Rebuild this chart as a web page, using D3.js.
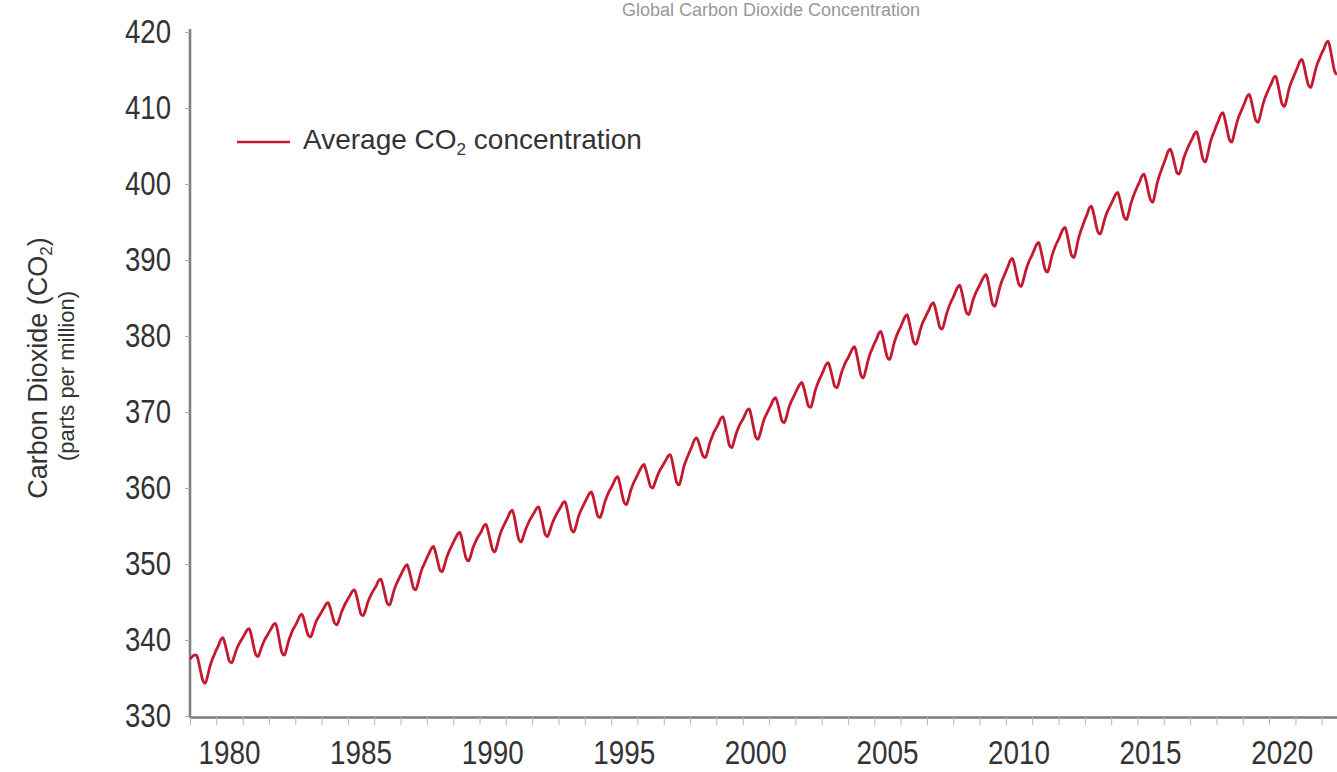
<!DOCTYPE html>
<html>
<head>
<meta charset="utf-8">
<script src="https://cdn.jsdelivr.net/npm/d3@7"></script>
<style>
  html, body { margin: 0; padding: 0; background: #fff; }
  svg { display: block; }
  .reg { font-family: "Liberation Sans", Arial, sans-serif; }
</style>
</head>
<body>
<svg id="chart" width="1337" height="772"></svg>
<script>
// monthly global mean CO2 (ppm), Jan 1979 onward, one row per year
const startYear = 1979;
const co2Monthly = [
  337.5, 337.8, 338.0, 338.0, 337.1, 335.7, 334.6, 334.3, 335.2, 336.4, 337.3, 338.0,
  338.7, 339.3, 340.0, 340.3, 339.5, 338.3, 337.2, 337.0, 337.7, 338.6, 339.3, 339.8,
  340.3, 340.8, 341.3, 341.5, 340.6, 339.2, 338.1, 337.8, 338.5, 339.3, 340.0, 340.5,
  341.0, 341.5, 342.0, 342.2, 341.2, 339.6, 338.3, 338.0, 338.8, 339.9, 340.7, 341.4,
  341.9, 342.5, 343.1, 343.4, 342.7, 341.5, 340.6, 340.4, 341.1, 342.0, 342.7, 343.2,
  343.7, 344.2, 344.7, 344.9, 344.2, 343.1, 342.2, 342.0, 342.7, 343.6, 344.3, 344.9,
  345.4, 345.9, 346.4, 346.6, 345.8, 344.5, 343.4, 343.2, 343.9, 344.9, 345.6, 346.2,
  346.7, 347.2, 347.8, 348.0, 347.2, 345.9, 344.8, 344.6, 345.4, 346.5, 347.3, 347.9,
  348.5, 349.1, 349.6, 349.9, 349.1, 347.9, 346.8, 346.6, 347.5, 348.6, 349.5, 350.1,
  350.8, 351.4, 352.0, 352.3, 351.5, 350.3, 349.2, 349.0, 349.8, 350.8, 351.6, 352.2,
  352.8, 353.4, 353.9, 354.2, 353.3, 351.8, 350.7, 350.4, 351.1, 352.1, 352.8, 353.4,
  353.9, 354.4, 355.0, 355.2, 354.3, 353.0, 351.9, 351.6, 352.4, 353.5, 354.4, 355.0,
  355.6, 356.2, 356.8, 357.1, 356.1, 354.5, 353.2, 352.9, 353.6, 354.5, 355.2, 355.8,
  356.3, 356.8, 357.3, 357.5, 356.5, 355.1, 353.9, 353.6, 354.3, 355.2, 355.9, 356.5,
  357.0, 357.5, 358.0, 358.2, 357.2, 355.7, 354.5, 354.2, 355.0, 356.1, 356.9, 357.5,
  358.1, 358.7, 359.2, 359.5, 358.7, 357.4, 356.3, 356.1, 356.9, 358.0, 358.8, 359.5,
  360.0, 360.6, 361.2, 361.5, 360.6, 359.2, 358.1, 357.8, 358.6, 359.7, 360.5, 361.1,
  361.7, 362.3, 362.8, 363.1, 362.3, 361.2, 360.2, 360.0, 360.7, 361.5, 362.2, 362.7,
  363.2, 363.7, 364.2, 364.4, 363.4, 361.9, 360.7, 360.4, 361.3, 362.6, 363.5, 364.2,
  364.9, 365.6, 366.3, 366.6, 366.0, 365.0, 364.2, 364.0, 364.8, 365.9, 366.7, 367.4,
  367.9, 368.5, 369.1, 369.4, 368.4, 366.9, 365.6, 365.3, 366.1, 367.1, 367.9, 368.5,
  369.0, 369.6, 370.2, 370.4, 369.4, 367.9, 366.7, 366.4, 367.2, 368.3, 369.2, 369.8,
  370.4, 371.0, 371.6, 371.9, 371.1, 369.9, 368.8, 368.6, 369.4, 370.5, 371.3, 371.9,
  372.5, 373.1, 373.6, 373.9, 373.1, 371.9, 370.8, 370.6, 371.5, 372.7, 373.6, 374.3,
  374.9, 375.6, 376.2, 376.5, 375.7, 374.5, 373.4, 373.2, 374.0, 375.1, 375.9, 376.6,
  377.1, 377.7, 378.3, 378.6, 377.6, 376.1, 374.8, 374.5, 375.4, 376.6, 377.6, 378.3,
  379.0, 379.6, 380.3, 380.6, 379.7, 378.3, 377.2, 376.9, 377.8, 379.0, 379.9, 380.6,
  381.2, 381.9, 382.5, 382.8, 381.8, 380.4, 379.2, 378.9, 379.7, 380.8, 381.7, 382.3,
  382.9, 383.5, 384.1, 384.4, 383.5, 382.2, 381.1, 380.9, 381.8, 382.9, 383.8, 384.5,
  385.1, 385.8, 386.4, 386.7, 385.7, 384.3, 383.1, 382.8, 383.6, 384.7, 385.5, 386.1,
  386.7, 387.3, 387.8, 388.1, 387.1, 385.5, 384.2, 383.9, 384.9, 386.1, 387.1, 387.8,
  388.5, 389.2, 389.9, 390.2, 389.3, 387.9, 386.8, 386.5, 387.4, 388.5, 389.4, 390.1,
  390.7, 391.4, 392.0, 392.3, 391.3, 389.9, 388.7, 388.4, 389.3, 390.5, 391.4, 392.1,
  392.7, 393.4, 394.0, 394.3, 393.3, 391.8, 390.6, 390.3, 391.3, 392.7, 393.7, 394.5,
  395.3, 396.0, 396.8, 397.1, 396.2, 394.8, 393.7, 393.4, 394.2, 395.3, 396.2, 396.8,
  397.4, 398.0, 398.6, 398.9, 398.0, 396.7, 395.6, 395.3, 396.2, 397.4, 398.3, 399.0,
  399.7, 400.3, 401.0, 401.3, 400.4, 399.0, 397.9, 397.6, 398.7, 400.1, 401.1, 401.9,
  402.7, 403.5, 404.3, 404.6, 403.8, 402.6, 401.5, 401.3, 402.1, 403.3, 404.1, 404.8,
  405.4, 406.0, 406.6, 406.9, 405.9, 404.4, 403.2, 402.9, 403.9, 405.2, 406.2, 406.9,
  407.7, 408.4, 409.1, 409.4, 408.4, 407.0, 405.8, 405.5, 406.5, 407.7, 408.7, 409.4,
  410.1, 410.8, 411.5, 411.8, 410.9, 409.5, 408.4, 408.1, 409.0, 410.2, 411.2, 411.9,
  412.6, 413.2, 413.9, 414.2, 413.2, 411.7, 410.5, 410.2, 411.1, 412.4, 413.3, 414.0,
  414.7, 415.4, 416.1, 416.4, 415.5, 414.1, 413.0, 412.7, 413.6, 414.8, 415.8, 416.5,
  417.2, 417.8, 418.5, 418.8, 417.7, 416.1, 414.8, 414.4
];

const yTicks = [330, 340, 350, 360, 370, 380, 390, 400, 410, 420];
const xLabelYears = [1980, 1985, 1990, 1995, 2000, 2005, 2010, 2015, 2020];
const chartTitle = 'Global Carbon Dioxide Concentration';
const legendLabel = 'Average CO';
const yTitle = 'Carbon Dioxide (CO';
const ySubTitle = '(parts per million)';

const width = 1337,
  height = 772,
  margin = { top: 32, right: 0, bottom: 56, left: 190 };

const red = '#c41a30',
  axisGrey = '#7d7d7d',
  textCol = '#333';

const svg = d3.select('#chart');

const data = co2Monthly.map((v, i) => ({
  date: new Date(startYear + Math.floor(i / 12), i % 12, 1),
  value: v
}));

const x = d3
  .scaleTime()
  .domain([new Date(1979, 0, 1), new Date(2022, 7, 1)])
  .range([margin.left, width - margin.right]);

const y = d3
  .scaleLinear()
  .domain([330, 420])
  .range([height - margin.bottom, margin.top]);

// chart title (sits at the very top, faint)
svg
  .append('text')
  .attr('class', 'reg')
  .attr('x', 771)
  .attr('y', 16)
  .attr('text-anchor', 'middle')
  .attr('font-size', 18)
  .attr('fill', '#999')
  .text(chartTitle);

// y axis
svg
  .append('g')
  .attr('transform', `translate(${margin.left},0)`)
  .call(d3.axisLeft(y).tickValues(yTicks).tickSize(5).tickSizeOuter(0).tickPadding(14))
  .call(g => g.select('.domain').attr('stroke', axisGrey).attr('stroke-width', 2.5)
    .attr('d', `M0,${y(420) - 3}V${height - margin.bottom + 2}`))
  .call(g => g.selectAll('.tick line').attr('stroke', '#aaa'))
  .call(g => g.selectAll('.tick text')
    .attr('class', 'reg')
    .attr('font-size', 34)
    .attr('fill', textCol)
    .attr('dy', '0.3em')
    .attr('textLength', 46)
    .attr('lengthAdjust', 'spacingAndGlyphs'));

// x axis: yearly ticks, labels centred on each year
const xAxisY = height - margin.bottom + 1;
svg
  .append('g')
  .attr('transform', `translate(0,${xAxisY})`)
  .call(d3.axisBottom(x).ticks(d3.timeYear.every(1)).tickSize(8).tickSizeOuter(0).tickFormat(''))
  .call(g => g.select('.domain').attr('stroke', axisGrey).attr('stroke-width', 2.5))
  .call(g => g.selectAll('.tick line').attr('stroke', '#b5b5b5'));

svg
  .append('g')
  .selectAll('text')
  .data(xLabelYears)
  .join('text')
  .attr('class', 'reg')
  .attr('x', d => x(new Date(d, 6, 2)))
  .attr('y', height - 8)
  .attr('text-anchor', 'middle')
  .attr('font-size', 34)
  .attr('fill', textCol)
  .attr('textLength', 62)
  .attr('lengthAdjust', 'spacingAndGlyphs')
  .text(d => d);

// y axis titles
const yt = svg
  .append('text')
  .attr('class', 'reg')
  .attr('transform', 'translate(47,368) rotate(-90)')
  .attr('text-anchor', 'middle')
  .attr('font-size', 27)
  .attr('fill', textCol);
yt.append('tspan').text(yTitle);
yt.append('tspan').attr('font-size', 17).attr('dy', 5).text('2');
yt.append('tspan').attr('dy', -5).text(')');

svg
  .append('text')
  .attr('class', 'reg')
  .attr('transform', 'translate(74,376) rotate(-90)')
  .attr('text-anchor', 'middle')
  .attr('font-size', 22)
  .attr('fill', textCol)
  .text(ySubTitle);

// the CO2 line
const line = d3
  .line()
  .curve(d3.curveMonotoneX)
  .x(d => x(d.date))
  .y(d => y(d.value));

svg
  .append('path')
  .datum(data)
  .attr('fill', 'none')
  .attr('stroke', red)
  .attr('stroke-width', 2.8)
  .attr('stroke-linejoin', 'round')
  .attr('d', line);

// legend
const legend = svg.append('g').attr('transform', 'translate(237,142)');
legend
  .append('line')
  .attr('x1', 0)
  .attr('x2', 53)
  .attr('stroke', red)
  .attr('stroke-width', 2.5);
const lt = legend
  .append('text')
  .attr('class', 'reg')
  .attr('x', 66)
  .attr('y', 7)
  .attr('font-size', 28)
  .attr('fill', textCol);
lt.append('tspan').text(legendLabel);
lt.append('tspan').attr('font-size', 17).attr('dy', 6).text('2');
lt.append('tspan').attr('dy', -6).text(' concentration');
</script>
</body>
</html>
